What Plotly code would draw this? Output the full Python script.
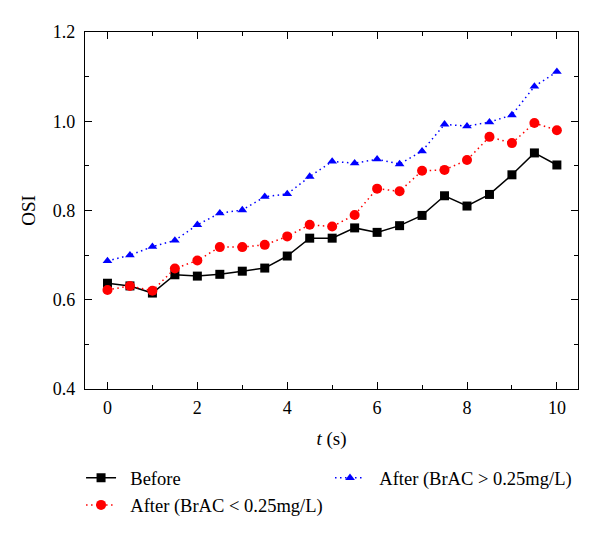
import plotly.graph_objects as go

t = [0, 0.5, 1, 1.5, 2, 2.5, 3, 3.5, 4, 4.5, 5, 5.5, 6, 6.5, 7, 7.5, 8, 8.5, 9, 9.5, 10]
before = [0.637, 0.631, 0.615, 0.656, 0.653, 0.657, 0.664, 0.671, 0.698, 0.738, 0.738,
          0.761, 0.751, 0.766, 0.789, 0.833, 0.810, 0.836, 0.880, 0.929, 0.902]
after_low = [0.622, 0.631, 0.620, 0.670, 0.688, 0.718, 0.718, 0.723, 0.742, 0.768, 0.764,
             0.790, 0.849, 0.843, 0.889, 0.891, 0.913, 0.965, 0.951, 0.996, 0.980]
after_high = [0.687, 0.700, 0.719, 0.733, 0.768, 0.794, 0.801, 0.831, 0.837, 0.876, 0.910,
              0.906, 0.915, 0.904, 0.933, 0.993, 0.989, 0.998, 1.014, 1.078, 1.111]

FONT = "Liberation Serif"
PAD = "&nbsp;&nbsp;"

fig = go.Figure()
fig.add_trace(go.Scatter(x=t, y=before, name=PAD + "Before", mode="lines+markers",
                         line=dict(color="black", width=1.5),
                         marker=dict(symbol="square", size=9, color="black"),
                         legend="legend"))
fig.add_trace(go.Scatter(x=t, y=after_low, name=PAD + "After (BrAC < 0.25mg/L)", mode="lines+markers",
                         line=dict(color="#ff0000", width=1.5, dash="1.5px,3.5px"),
                         marker=dict(symbol="circle", size=10, color="#ff0000"),
                         legend="legend"))
fig.add_trace(go.Scatter(x=t, y=after_high, name=PAD + "After (BrAC > 0.25mg/L)", mode="lines+markers",
                         line=dict(color="#0000ff", width=1.5, dash="1.5px,3.5px"),
                         marker=dict(symbol="triangle-up", size=8.5, color="#0000ff"),
                         legend="legend2"))

axis_common = dict(showline=True, linecolor="black", linewidth=1.2, mirror="ticks",
                   ticks="inside", ticklen=7, tickcolor="black", tickwidth=1.2,
                   showgrid=False, zeroline=False,
                   tickfont=dict(family=FONT, size=18, color="black"))

fig.update_xaxes(range=[-0.5, 10.47], dtick=2, tick0=0,
                 minor=dict(dtick=1, ticks="inside", ticklen=4, tickcolor="black", tickwidth=1.2),
                 title=dict(text="<i>t</i> (s)", font=dict(family=FONT, size=19, color="black"), standoff=14),
                 ticklabelstandoff=2,
                 **axis_common)
fig.update_yaxes(range=[0.4, 1.2], dtick=0.2, tick0=0.4, tickformat=".1f",
                 minor=dict(dtick=0.1, ticks="inside", ticklen=4, tickcolor="black", tickwidth=1.2),
                 title=dict(text="OSI", font=dict(family=FONT, size=19, color="black"), standoff=12),
                 ticklabelstandoff=5,
                 **axis_common)

leg_common = dict(font=dict(family=FONT, size=18.5, color="black"), bgcolor="rgba(0,0,0,0)",
                  itemwidth=30, xanchor="left", yanchor="top", tracegroupgap=0)
fig.update_layout(
    width=600, height=537,
    margin=dict(l=77, r=30, t=24, b=156, autoexpand=False),
    plot_bgcolor="white", paper_bgcolor="white",
    showlegend=True,
    legend=dict(x=-0.008, y=-0.197, **leg_common),
    legend2=dict(x=0.497, y=-0.197, **leg_common),
)

fig.write_html("out.html")
